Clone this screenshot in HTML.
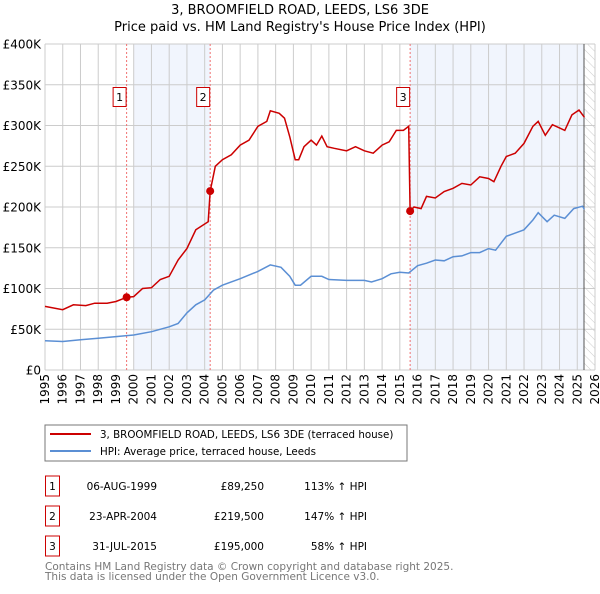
<!DOCTYPE html>
<html><head><meta charset="utf-8">
<style>
body{margin:0;background:#fff;font-family:"DejaVu Sans","Liberation Sans",sans-serif;}
svg text{font-family:"DejaVu Sans","Liberation Sans",sans-serif;}
</style></head>
<body>
<svg id="c" width="600" height="590" xmlns="http://www.w3.org/2000/svg">
<defs><pattern id="hatch" width="6" height="6" patternUnits="userSpaceOnUse" patternTransform="rotate(-45)"><line x1="0" y1="0" x2="0" y2="6" stroke="#ccc" stroke-width="1"/></pattern></defs>
<text x="300" y="14" text-anchor="middle" font-size="13">3, BROOMFIELD ROAD, LEEDS, LS6 3DE</text>
<text x="300" y="31" text-anchor="middle" font-size="13">Price paid vs. HM Land Registry's House Price Index (HPI)</text>
<g id="plot"></g>
<rect x="45" y="425" width="362" height="36" fill="#fff" stroke="#777"/>
<g><line x1="50" y1="434" x2="91" y2="434" stroke="#cc0000" stroke-width="2"/><text x="100" y="438" font-size="10.3">3, BROOMFIELD ROAD, LEEDS, LS6 3DE (terraced house)</text></g>
<g><line x1="50" y1="451" x2="91" y2="451" stroke="#5b8fd4" stroke-width="2"/><text x="100" y="455" font-size="10.3">HPI: Average price, terraced house, Leeds</text></g>
<g font-size="10.5">
<g><rect x="45.5" y="476" width="14" height="20" fill="#fff" stroke="#cc0000"/><text x="52.5" y="490" text-anchor="middle">1</text><text x="157" y="490" text-anchor="end">06-AUG-1999</text><text x="264" y="490" text-anchor="end">£89,250</text><text x="367" y="490" text-anchor="end">113% ↑ HPI</text></g>
<g><rect x="45.5" y="506" width="14" height="20" fill="#fff" stroke="#cc0000"/><text x="52.5" y="520" text-anchor="middle">2</text><text x="157" y="520" text-anchor="end">23-APR-2004</text><text x="264" y="520" text-anchor="end">£219,500</text><text x="367" y="520" text-anchor="end">147% ↑ HPI</text></g>
<g><rect x="45.5" y="536" width="14" height="20" fill="#fff" stroke="#cc0000"/><text x="52.5" y="550" text-anchor="middle">3</text><text x="157" y="550" text-anchor="end">31-JUL-2015</text><text x="264" y="550" text-anchor="end">£195,000</text><text x="367" y="550" text-anchor="end">58% ↑ HPI</text></g>
</g>
<text x="45" y="570" font-size="10.5" fill="#777">Contains HM Land Registry data © Crown copyright and database right 2025.</text>
<text x="45" y="580" font-size="10.5" fill="#777">This data is licensed under the Open Government Licence v3.0.</text>
</svg>
<script>
const yTicks=[0,50,100,150,200,250,300,350,400];
const yLabels=["£0","£50K","£100K","£150K","£200K","£250K","£300K","£350K","£400K"];
const xYears=[1995,1996,1997,1998,1999,2000,2001,2002,2003,2004,2005,2006,2007,2008,2009,2010,2011,2012,2013,2014,2015,2016,2017,2018,2019,2020,2021,2022,2023,2024,2025,2026];
const hpiT=[1995,1996,1997,1998,1999,2000,2001,2002,2002.5,2003,2003.5,2004,2004.5,2005,2006,2007,2007.7,2008.3,2008.8,2009.1,2009.4,2010,2010.6,2011,2012,2013,2013.4,2014,2014.5,2015,2015.5,2016,2016.5,2017,2017.5,2018,2018.5,2019,2019.5,2020,2020.4,2021,2021.5,2022,2022.5,2022.8,2023.3,2023.7,2024.3,2024.8,2025.3,2025.4];
const hpiV=[36,35,37,39,41,43,47,53,57,70,80,86,98,104,112,121,129,126,115,104,104,115,115,111,110,110,108,112,118,120,119,128,131,135,134,139,140,144,144,149,147,164,168,172,184,193,182,190,186,198,201,197];
const propT=[1995,1996,1996.6,1997.3,1997.8,1998.5,1999,1999.6,2000,2000.5,2001,2001.5,2002,2002.5,2003,2003.5,2004.2,2004.31,2004.6,2005,2005.5,2006,2006.5,2007,2007.5,2007.7,2008.2,2008.5,2008.8,2009.1,2009.3,2009.6,2010,2010.3,2010.6,2010.9,2011.3,2012,2012.5,2013,2013.5,2014,2014.4,2014.8,2015.2,2015.5,2015.58,2015.8,2016.2,2016.5,2017,2017.5,2018,2018.5,2019,2019.5,2020,2020.3,2020.7,2021,2021.5,2022,2022.5,2022.8,2023.2,2023.6,2024,2024.3,2024.7,2025.1,2025.4];
const propV=[78,74,80,79,82,82,84,89.25,90,100,101,111,115,135,149,172,182,219.5,250,258,264,276,282,299,305,318,315,309,286,258,258,274,282,276,287,274,272,269,274,269,266,276,280,294,294,299,195,200,198,213,211,219,223,229,227,237,235,231,250,262,266,278,299,305,288,301,297,294,313,319,310];
const saleT=[1999.6,2004.31,2015.58];
const saleV=[89.25,219.5,195];
const saleLabels=["1","2","3"];
const X0=45,X1=595,Y0=370,Y1=44;
const xs=y=>X0+(y-1995)/31*(X1-X0);
const ys=v=>Y0-v/400*(Y0-Y1);
const NS="http://www.w3.org/2000/svg";
const g=document.getElementById('plot');
function mk(t,a,p){const e=document.createElementNS(NS,t);for(const k in a)e.setAttribute(k,a[k]);(p||g).appendChild(e);return e;}
let e;
e=mk('rect',{x:xs(2000),y:Y1,width:xs(saleT[1])-xs(2000),height:Y0-Y1,fill:'#eef3fd',opacity:0.8});


e=mk('rect',{x:xs(saleT[2]),y:Y1,width:xs(2025.38)-xs(saleT[2]),height:Y0-Y1,fill:'#eef3fd',opacity:0.8});


e=mk('rect',{x:xs(2025.38),y:Y1,width:X1-xs(2025.38),height:Y0-Y1,fill:'url(#hatch)'});


yTicks.forEach((v,i)=>{
 e=mk('line',{x1:X0,x2:X1,y1:ys(v),y2:ys(v),stroke:'#ccc'});
 
 
 e=mk('text',{x:X0-4,y:ys(v)+4.5,'text-anchor':'end','font-size':12});
 e.textContent=yLabels[i];
 
 
});
xYears.forEach(yr=>{
 e=mk('line',{x1:xs(yr),x2:xs(yr),y1:Y1,y2:Y0,stroke:'#ccc'});
 
 
 const x=xs(yr)+4,y=Y0+4;
 e=mk('text',{x:x,y:y,'text-anchor':'end','font-size':12,transform:`rotate(-90 ${x} ${y})`});
 e.textContent=yr;
 
 
});
e=mk('line',{x1:xs(2025.38),x2:xs(2025.38),y1:Y1,y2:Y0,stroke:'#555'});


saleT.forEach((t,i)=>{
 e=mk('line',{x1:xs(t),x2:xs(t),y1:Y1,y2:Y0,stroke:'#f07070','stroke-dasharray':'2,2'});
 
 
});
const pts=(T,V)=>T.map((t,i)=>xs(t).toFixed(1)+','+ys(V[i]).toFixed(1)).join(' ');
e=mk('polyline',{points:pts(hpiT,hpiV),fill:'none',stroke:'#5b8fd4','stroke-width':1.5});


e=mk('polyline',{points:pts(propT,propV),fill:'none',stroke:'#cc0000','stroke-width':1.5});


saleT.forEach((t,i)=>{
 e=mk('circle',{cx:xs(t),cy:ys(saleV[i]),r:4,fill:'#cc0000'});
 
 
 const bx=xs(t)-14;
 e=mk('rect',{x:bx+0.5,y:87.5,width:13,height:19,fill:'#fff',stroke:'#cc0000'});
 
 
 e=mk('text',{x:bx+7,y:101,'text-anchor':'middle','font-size':11});
 e.textContent=saleLabels[i];
 
 
});
</script>
</body></html>
